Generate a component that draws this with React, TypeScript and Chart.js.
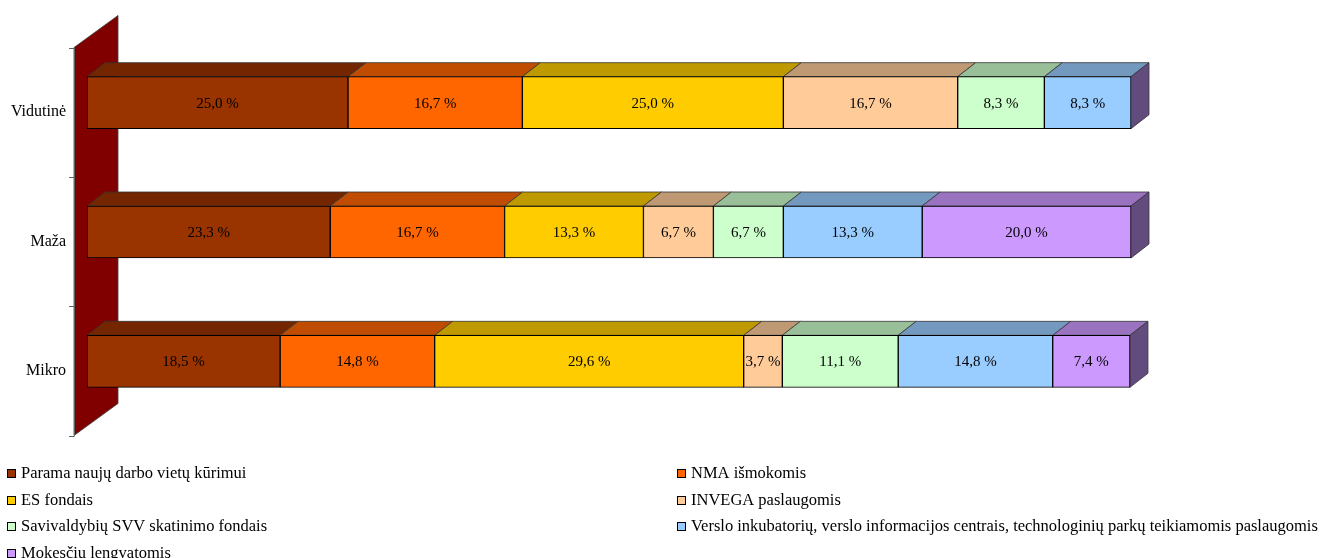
import React, { useEffect, useRef } from "react";
import { Chart, registerables } from "chart.js";

Chart.register(...registerables);

const categories = ["Vidutinė", "Maža", "Mikro"];

const seriesNames = [
  "Parama naujų darbo vietų kūrimui",
  "NMA išmokomis",
  "ES fondais",
  "INVEGA paslaugomis",
  "Savivaldybių SVV skatinimo fondais",
  "Verslo inkubatorių, verslo informacijos centrais, technologinių parkų teikiamomis paslaugomis",
  "Mokesčių lengvatomis",
];

const parama = [25.0, 23.3, 18.5];
const nma = [16.7, 16.7, 14.8];
const esFondai = [25.0, 13.3, 29.6];
const invega = [16.7, 6.7, 3.7];
const savivaldybiu = [8.3, 6.7, 11.1];
const verslo = [8.3, 13.3, 14.8];
const mokesciu = [null, 20.0, 7.4];

const seriesValues = [parama, nma, esFondai, invega, savivaldybiu, verslo, mokesciu];

const frontColors = ["#993300", "#FF6600", "#FFCC00", "#FFCC99", "#CCFFCC", "#99CCFF", "#CC99FF"];
const topColors = ["#732600", "#BF4C00", "#BF9900", "#BF9973", "#99BF99", "#7399BF", "#9973BF"];
const sideColor = "#624B7D";
const wallColor = "#800000";

const LABEL_FONT = '15px "Liberation Serif", "Times New Roman", serif';
const CAT_FONT = '16px "Liberation Serif", "Times New Roman", serif';
const LEGEND_FONT = '16.5px "Liberation Serif", "Times New Roman", serif';

// 3D geometry (pixels)
const BAR_DX = 18;
const BAR_DY = -14;
const WALL_FRONT_DX = -13;
const WALL_FRONT_DY = 9.5;
const WALL_DX = 44;
const WALL_DY = -32;

const fmt = (v: number) => v.toFixed(1).replace(".", ",") + " %";

function poly(ctx: CanvasRenderingContext2D, pts: number[][], fill: string, stroke: string, lw = 1) {
  ctx.beginPath();
  ctx.moveTo(pts[0][0], pts[0][1]);
  for (let i = 1; i < pts.length; i++) ctx.lineTo(pts[i][0], pts[i][1]);
  ctx.closePath();
  ctx.fillStyle = fill;
  ctx.fill();
  ctx.strokeStyle = stroke;
  ctx.lineWidth = lw;
  ctx.stroke();
}

const threeDPlugin = {
  id: "threeD",
  beforeDatasetsDraw(chart: any) {
    const ctx: CanvasRenderingContext2D = chart.ctx;
    const area = chart.chartArea;
    const yScale = chart.scales.y;
    ctx.save();
    // back wall
    const fx = area.left + WALL_FRONT_DX;
    const ft = area.top + WALL_FRONT_DY;
    const fb = area.bottom + WALL_FRONT_DY;
    poly(
      ctx,
      [
        [fx, ft],
        [fx + WALL_DX, ft + WALL_DY],
        [fx + WALL_DX, fb + WALL_DY],
        [fx, fb],
      ],
      wallColor,
      "#404040",
      0.8
    );
    // axis line + ticks
    ctx.strokeStyle = "#606060";
    ctx.lineWidth = 1;
    ctx.beginPath();
    ctx.moveTo(fx + 0.5, ft);
    ctx.lineTo(fx + 0.5, fb);
    const n = categories.length;
    for (let i = 0; i <= n; i++) {
      const y = Math.round(ft + ((fb - ft) * i) / n) + 0.5;
      ctx.moveTo(fx - 5, y);
      ctx.lineTo(fx + 0.5, y);
    }
    ctx.stroke();
    // category labels
    ctx.fillStyle = "#000";
    ctx.font = CAT_FONT;
    ctx.textAlign = "right";
    ctx.textBaseline = "middle";
    categories.forEach((c, i) => {
      const y = yScale.getPixelForValue(i) + WALL_FRONT_DY;
      ctx.fillText(c, fx - 8, y);
    });
    // top faces and side faces
    for (let i = 0; i < categories.length; i++) {
      let lastIdx = -1;
      for (let d = 0; d < seriesValues.length; d++) {
        const v = seriesValues[d][i];
        if (v === null || v === undefined) continue;
        const el = chart.getDatasetMeta(d).data[i];
        const p = el.getProps(["x", "y", "base", "height"], true);
        const x0 = Math.min(p.base, p.x);
        const x1 = Math.max(p.base, p.x);
        const yt = p.y - p.height / 2;
        poly(
          ctx,
          [
            [x0, yt],
            [x1, yt],
            [x1 + BAR_DX, yt + BAR_DY],
            [x0 + BAR_DX, yt + BAR_DY],
          ],
          topColors[d],
          "#333333",
          0.8
        );
        lastIdx = d;
      }
      if (lastIdx >= 0) {
        const el = chart.getDatasetMeta(lastIdx).data[i];
        const p = el.getProps(["x", "y", "base", "height"], true);
        const xe = Math.max(p.base, p.x);
        const yt = p.y - p.height / 2;
        const yb = p.y + p.height / 2;
        poly(
          ctx,
          [
            [xe, yt],
            [xe + BAR_DX, yt + BAR_DY],
            [xe + BAR_DX, yb + BAR_DY],
            [xe, yb],
          ],
          sideColor,
          "#333333",
          0.8
        );
      }
    }
    ctx.restore();
  },
  afterDatasetsDraw(chart: any) {
    const ctx: CanvasRenderingContext2D = chart.ctx;
    ctx.save();
    ctx.fillStyle = "#000";
    ctx.font = LABEL_FONT;
    ctx.textAlign = "center";
    ctx.textBaseline = "middle";
    for (let d = 0; d < seriesValues.length; d++) {
      for (let i = 0; i < categories.length; i++) {
        const v = seriesValues[d][i];
        if (v === null || v === undefined) continue;
        const el = chart.getDatasetMeta(d).data[i];
        const p = el.getProps(["x", "y", "base"], true);
        ctx.fillText(fmt(v), (p.x + p.base) / 2, p.y + 1);
      }
    }
    // legend (2 columns, row-major)
    const colX = [7, 677];
    const rowY0 = 473;
    const rowH = 26.5;
    ctx.textAlign = "left";
    ctx.font = LEGEND_FONT;
    seriesNames.forEach((name, k) => {
      const col = k % 2;
      const row = Math.floor(k / 2);
      const bx = colX[col];
      const cy = Math.round(rowY0 + row * rowH);
      ctx.fillStyle = frontColors[k];
      ctx.fillRect(bx, cy - 4, 8, 8);
      ctx.strokeStyle = "#000";
      ctx.lineWidth = 1;
      ctx.strokeRect(bx + 0.5, cy - 3.5, 8, 8);
      ctx.fillStyle = "#000";
      ctx.fillText(name, bx + 14, cy + 1);
    });
    ctx.restore();
  },
};

export default function App() {
  const ref = useRef<HTMLCanvasElement | null>(null);
  useEffect(() => {
    if (!ref.current) return;
    const chart = new Chart(ref.current, {
      type: "bar",
      data: {
        labels: categories,
        datasets: seriesNames.map((name, d) => ({
          label: name,
          data: seriesValues[d] as any,
          backgroundColor: frontColors[d],
          borderColor: "#000000",
          borderWidth: 1,
          borderSkipped: false,
          barThickness: 52,
        })),
      },
      options: {
        indexAxis: "y",
        responsive: false,
        animation: false,
        layout: { padding: { left: 87, right: 192, top: 38, bottom: 132 } },
        plugins: {
          legend: { display: false },
          tooltip: { enabled: false },
          title: { display: false },
        },
        scales: {
          x: { stacked: true, min: 0, max: 100, display: false },
          y: { stacked: true, display: false },
        },
      },
      plugins: [threeDPlugin],
    } as any);
    return () => chart.destroy();
  }, []);
  return (
    <div style={{ position: "absolute", left: 0, top: 0, width: 1323, height: 558, background: "#fff" }}>
      <canvas ref={ref} width={1323} height={558} style={{ width: 1323, height: 558 }} />
    </div>
  );
}
